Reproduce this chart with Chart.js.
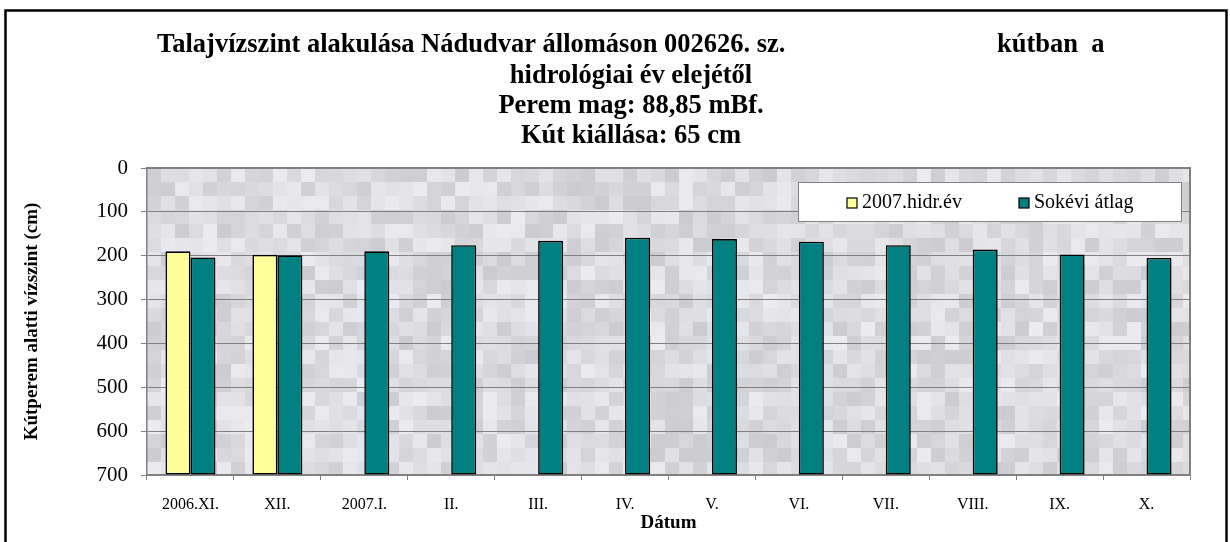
<!DOCTYPE html>
<html>
<head>
<meta charset="utf-8">
<script src="https://cdn.jsdelivr.net/npm/chart.js@4.4.1/dist/chart.umd.min.js"></script>
<style>
  html, body { margin: 0; padding: 0; background: #fff; }
  #wrap { width: 1230px; height: 542px; position: relative; }
</style>
</head>
<body>
<div id="wrap"><canvas id="c" width="1230" height="542"></canvas></div>
<script>
// ---- data ----
const categories = ['2006.XI.', 'XII.', '2007.I.', 'II.', 'III.', 'IV.', 'V.', 'VI.', 'VII.', 'VIII.', 'IX.', 'X.'];
const series2007 = [190, 198, null, null, null, null, null, null, null, null, null, null];
const seriesAvg = [204, 199, 190, 176, 166, 159, 162, 168, 176, 186, 197, 205];
const seriesNames = ['2007.hidr.év', 'Sokévi átlag'];
const yTicks = [0, 100, 200, 300, 400, 500, 600, 700];
const titleLine1Left = 'Talajvízszint alakulása Nádudvar állomáson 002626. sz.';
const titleLine1Right = 'kútban  a';
const titleLines = ['hidrológiai év elejétől', 'Perem mag: 88,85 mBf.', 'Kút kiállása: 65 cm'];

const SERIF = '"Liberation Serif", "Times New Roman", serif';

// textured plot background (decorative)
const texturePlugin = {
  id: 'texture',
  beforeDraw(chart) {
    const {ctx, chartArea: a} = chart;
    ctx.save();
    const bs = 14;
    for (let y = a.top; y < a.bottom; y += bs) {
      for (let x = a.left; x < a.right; x += bs) {
        const h = Math.sin((x * 12.9898 + y * 78.233)) * 43758.5453;
        const f = h - Math.floor(h);
        const g = Math.round(204 + f * 32);
        ctx.fillStyle = 'rgb(' + g + ',' + g + ',' + (g + 4) + ')';
        ctx.fillRect(x, y, Math.min(bs, a.right - x), Math.min(bs, a.bottom - y));
      }
    }
    ctx.restore();
  },
  afterDatasetsDraw(chart) {
    const {ctx, chartArea: a} = chart;
    ctx.save();
    ctx.strokeStyle = '#808080';
    ctx.lineWidth = 2;
    ctx.beginPath();
    ctx.moveTo(a.left, a.top);
    ctx.lineTo(a.right, a.top);
    ctx.lineTo(a.right, a.bottom);
    ctx.stroke();
    ctx.restore();
  }
};

const framePlugin = {
  id: 'frame',
  afterDraw(chart) {
    const ctx = chart.ctx;
    ctx.save();
    // outer frame
    ctx.strokeStyle = '#000';
    ctx.lineWidth = 2.5;
    ctx.strokeRect(5.5, 10.5, 1221, 540);
    // title
    ctx.fillStyle = '#000';
    ctx.font = 'bold 26.5px ' + SERIF;
    ctx.textBaseline = 'middle';
    ctx.textAlign = 'left';
    ctx.fillText(titleLine1Left, 157, 45);
    ctx.fillText(titleLine1Right, 997, 45);
    ctx.textAlign = 'center';
    const ys = [76, 106, 136];
    titleLines.forEach((t, i) => ctx.fillText(t, 631, ys[i]));
    // legend
    const lx = 798, ly = 182, lw = 383, lh = 39;
    ctx.fillStyle = '#fff';
    ctx.fillRect(lx, ly, lw, lh);
    ctx.strokeStyle = '#808080';
    ctx.lineWidth = 1;
    ctx.strokeRect(lx + 0.5, ly + 0.5, lw, lh);
    const ds = chart.data.datasets;
    const items = [{x: 847}, {x: 1019}];
    ctx.font = '20px ' + SERIF;
    ctx.textAlign = 'left';
    items.forEach((it, i) => {
      ctx.fillStyle = ds[i].backgroundColor;
      ctx.fillRect(it.x, 198, 10, 10);
      ctx.strokeStyle = '#000';
      ctx.lineWidth = 1.2;
      ctx.strokeRect(it.x, 198, 10, 10);
      ctx.fillStyle = '#000';
      ctx.fillText(ds[i].label, it.x + 15, 203);
    });
    ctx.restore();
  }
};

new Chart(document.getElementById('c'), {
  type: 'bar',
  data: {
    labels: categories,
    datasets: [
      {
        label: seriesNames[0],
        data: series2007,
        base: 700,
        backgroundColor: '#FFFF99',
        borderColor: '#000',
        borderWidth: 1.6,
        borderSkipped: false,
        categoryPercentage: 0.575,
        barPercentage: 1.0
      },
      {
        label: seriesNames[1],
        data: seriesAvg,
        base: 700,
        backgroundColor: '#008080',
        borderColor: '#000',
        borderWidth: 1.6,
        borderSkipped: false,
        categoryPercentage: 0.575,
        barPercentage: 1.0
      }
    ]
  },
  options: {
    responsive: false,
    animation: false,
    layout: { padding: { left: 0, right: 40, top: 168, bottom: 0 } },
    plugins: {
      legend: { display: false },
      title: { display: false },
      tooltip: { enabled: false }
    },
    scales: {
      x: {
        offset: true,
        grid: { drawOnChartArea: false, tickLength: 5, color: '#808080', offset: true },
        border: { color: '#808080', width: 1.5 },
        ticks: { font: { family: SERIF, size: 16 }, color: '#000', padding: 15, maxRotation: 0, autoSkip: false },
        title: { display: true, text: 'Dátum', font: { family: SERIF, size: 19, weight: 'bold' }, color: '#000', padding: { top: 0, bottom: 8 } },
        afterFit(s) { s.height = 67; }
      },
      y: {
        reverse: true,
        min: 0,
        max: 700,
        afterBuildTicks(s) { s.ticks = yTicks.map(v => ({ value: v })); },
        grid: { color: '#808080', lineWidth: 1, tickLength: 6 },
        border: { color: '#808080', width: 1.5 },
        ticks: { font: { family: SERIF, size: 21 }, color: '#000', padding: 13 },
        title: { display: true, text: 'Kútperem alatti vízszint (cm)', font: { family: SERIF, size: 19, weight: 'bold' }, color: '#000', padding: { top: 21, bottom: 0 } },
        afterFit(s) { s.width = 147; }
      }
    }
  },
  plugins: [texturePlugin, framePlugin]
});
</script>
</body>
</html>
